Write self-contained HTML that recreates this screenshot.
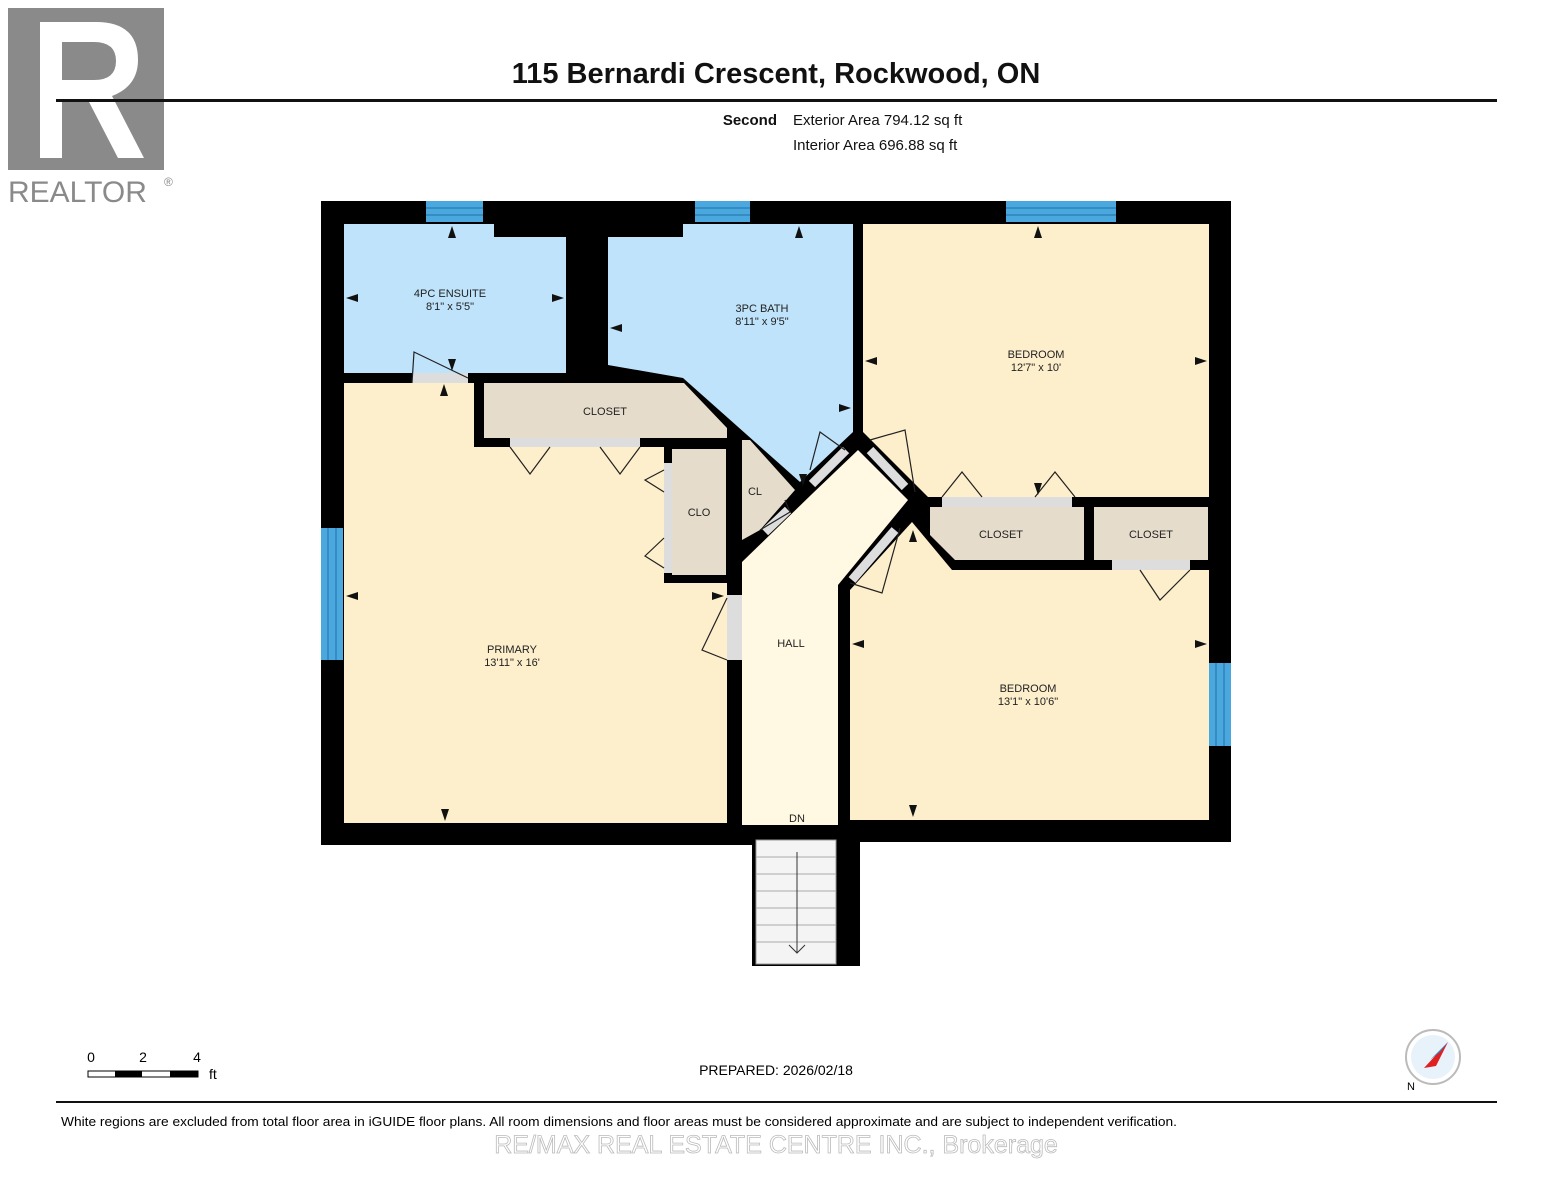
<!DOCTYPE html>
<html><head><meta charset="utf-8"><style>
body{margin:0;background:#fff;width:1553px;height:1200px;overflow:hidden;font-family:"Liberation Sans",Arial,sans-serif}
svg{position:absolute;left:0;top:0}
</style></head><body>
<svg width="1553" height="1200" viewBox="0 0 1553 1200" font-family="Liberation Sans, Arial, sans-serif">
<!-- REALTOR logo -->
<rect x="8" y="8" width="156" height="162" fill="#8a8a8a"/>
<path d="M40 22 L40 158 L62 158 L62 100 L88 100 L118 158 L144 158 L112 96 Q138 86 138 60 Q138 22 96 22 Z M62 42 L94 42 Q116 42 116 61 Q116 80 94 80 L62 80 Z" fill="#fff"/>
<text x="8" y="202" font-size="30" fill="#8a8a8a">REALTOR</text><text x="164" y="186" font-size="12" fill="#8a8a8a">®</text>
<text x="776" y="83" font-size="29" font-weight="bold" text-anchor="middle" fill="#111">115 Bernardi Crescent, Rockwood, ON</text>
<rect x="56" y="99" width="1441" height="3" fill="#111"/>
<text x="777" y="125" font-size="15" font-weight="bold" text-anchor="end" fill="#111">Second</text>
<text x="793" y="125" font-size="15" fill="#111">Exterior Area 794.12 sq ft</text>
<text x="793" y="150" font-size="15" fill="#111">Interior Area 696.88 sq ft</text>

<!-- walls -->
<rect x="321" y="201" width="910" height="644" fill="#000"/>
<rect x="752" y="820" width="108" height="146" fill="#000"/>
<rect x="860" y="842" width="371" height="10" fill="#fff"/>
<!-- rooms -->
<rect x="344" y="224" width="222" height="149" fill="#bfe3fa"/>
<rect x="494" y="201" width="106" height="36" fill="#000"/>
<polygon points="608,237 683,237 683,224 853,224 853,432 800,482 683,378 608,365" fill="#bfe3fa"/>
<polygon points="344,383 474,383 474,447 664,447 664,583 727,583 727,823 344,823" fill="#fdefcc"/>
<polygon points="484,383 684,383 727,428 727,438 484,438" fill="#e6dccb"/>
<rect x="672" y="449" width="54" height="126" fill="#e6dccb"/>
<polygon points="742,440 750,440 795,490 760,530 742,540" fill="#e6dccb"/>
<polygon points="742,562 812,494 858,450 908,500 838,585 838,825 742,825" fill="#fff8e2"/>
<polygon points="863,224 1209,224 1209,497 928,497 863,432" fill="#fdefcc"/>
<polygon points="930,507 1084,507 1084,560 955,560 930,535" fill="#e6dccb"/>
<rect x="1094" y="507" width="114" height="53" fill="#e6dccb"/>
<polygon points="952,570 1209,570 1209,820 850,820 850,590 912,522" fill="#fdefcc"/>
<!-- windows -->
<g fill="#4aa8de"><rect x="426" y="201" width="57" height="21"/><rect x="695" y="201" width="55" height="21"/><rect x="1006" y="201" width="110" height="21"/><rect x="321" y="528" width="22" height="132"/><rect x="1209" y="663" width="22" height="83"/></g>
<g stroke="#1d6fa5" stroke-width="1"><path d="M426 208H483M426 215H483M695 208H750M695 215H750M1006 208H1116M1006 215H1116M328 528V660M336 528V660M1216 663V746M1224 663V746"/></g>
<!-- door gaps -->
<g fill="#ddd"><rect x="412" y="373" width="56" height="10"/><rect x="510" y="438" width="130" height="9"/><rect x="664" y="463" width="8" height="110"/><rect x="727" y="595" width="15" height="65"/><rect x="942" y="497" width="130" height="10"/><rect x="1112" y="560" width="78" height="10"/></g>
<g stroke="#ddd" stroke-width="9"><line x1="812" y1="484" x2="846" y2="450"/><line x1="870" y1="450" x2="905" y2="487"/><line x1="852" y1="580" x2="895" y2="530"/><line x1="765" y1="532" x2="788" y2="510"/></g>
<g fill="none" stroke="#222" stroke-width="1.2"><path d="M510 447 L530 474 L550 447 M600 447 L620 474 L640 447 M664 470 L645 480 L664 492 M664 538 L645 556 L664 568 M1140 570 L1160 600 L1190 570 M942 497 L962 472 L982 497 M1035 497 L1055 472 L1075 497 M412 383 L414 352 L468 378 M727 598 L702 650 L727 660 M810 470 L820 432 L845 450 M870 440 L905 430 L915 492 M850 583 L882 593 L900 528 M760 530 L790 512 L785 500"/></g>
<!-- dimension arrowheads -->
<g fill="#111">
<polygon points="452,226 448,238 456,238"/><polygon points="799,226 795,238 803,238"/><polygon points="1038,226 1034,238 1042,238"/>
<polygon points="346,298 358,294 358,302"/><polygon points="564,298 552,294 552,302"/><polygon points="610,328 622,324 622,332"/>
<polygon points="865,361 877,357 877,365"/><polygon points="1207,361 1195,357 1195,365"/><polygon points="851,408 839,404 839,412"/>
<polygon points="346,596 358,592 358,600"/><polygon points="724,596 712,592 712,600"/><polygon points="852,644 864,640 864,648"/><polygon points="1207,644 1195,640 1195,648"/>
<polygon points="445,821 441,809 449,809"/><polygon points="913,817 909,805 917,805"/><polygon points="444,384 440,396 448,396"/><polygon points="913,530 909,542 917,542"/>
<polygon points="452,371 448,359 456,359"/><polygon points="1038,495 1034,483 1042,483"/><polygon points="803,486 799,474 807,474"/>
</g>
<!-- stairs -->
<rect x="756" y="840" width="80" height="124" fill="#f4f4f4" stroke="#999"/>
<g stroke="#aaa"><line x1="756" y1="857" x2="836" y2="857"/><line x1="756" y1="874" x2="836" y2="874"/><line x1="756" y1="891" x2="836" y2="891"/><line x1="756" y1="908" x2="836" y2="908"/><line x1="756" y1="925" x2="836" y2="925"/><line x1="756" y1="942" x2="836" y2="942"/></g>
<path d="M797 852 L797 953 M789 945 L797 953 L805 945" stroke="#333" fill="none"/>
<!-- labels -->
<g font-size="11" fill="#222" text-anchor="middle">
<text x="450" y="297">4PC ENSUITE</text><text x="450" y="310">8'1" x 5'5"</text>
<text x="762" y="312">3PC BATH</text><text x="762" y="325">8'11" x 9'5"</text>
<text x="1036" y="358">BEDROOM</text><text x="1036" y="371">12'7" x 10'</text>
<text x="605" y="415">CLOSET</text><text x="699" y="516">CLO</text><text x="755" y="495">CL</text>
<text x="1001" y="538">CLOSET</text><text x="1151" y="538">CLOSET</text>
<text x="791" y="647">HALL</text>
<text x="512" y="653">PRIMARY</text><text x="512" y="666">13'11" x 16'</text>
<text x="1028" y="692">BEDROOM</text><text x="1028" y="705">13'1" x 10'6"</text>
<text x="797" y="822">DN</text>
</g>
<!-- footer -->
<text x="91" y="1062" font-size="14" text-anchor="middle">0</text><text x="143" y="1062" font-size="14" text-anchor="middle">2</text><text x="197" y="1062" font-size="14" text-anchor="middle">4</text>
<rect x="88" y="1071" width="110" height="6" fill="#fff" stroke="#000"/><rect x="115" y="1071" width="27" height="6" fill="#000"/><rect x="170" y="1071" width="28" height="6" fill="#000"/>
<text x="209" y="1079" font-size="14">ft</text>
<text x="776" y="1075" font-size="14" text-anchor="middle">PREPARED: 2026/02/18</text>
<circle cx="1433" cy="1057" r="27" fill="#fff" stroke="#bbb" stroke-width="2"/><circle cx="1433" cy="1057" r="22" fill="#e8f2fb"/>
<polygon points="1448,1042 1436,1066 1424,1068" fill="#e02020"/><polygon points="1448,1042 1440,1052 1430,1060" fill="#3080c0"/>
<text x="1407" y="1090" font-size="11">N</text>
<rect x="56" y="1101" width="1441" height="2" fill="#111"/>
<text x="61" y="1126" font-size="13" textLength="1116" lengthAdjust="spacingAndGlyphs">White regions are excluded from total floor area in iGUIDE floor plans. All room dimensions and floor areas must be considered approximate and are subject to independent verification.</text>
<text x="776" y="1153" font-size="25" text-anchor="middle" fill="#fff" stroke="#bbb" stroke-width="0.8">RE/MAX REAL ESTATE CENTRE INC., Brokerage</text>
</svg>
</body></html>
